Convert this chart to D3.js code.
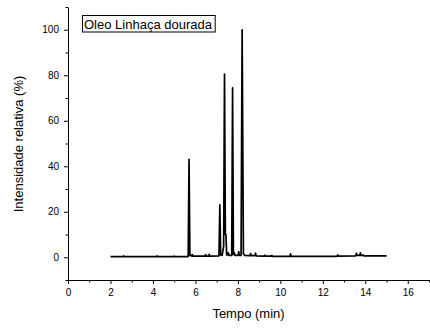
<!DOCTYPE html>
<html>
<head>
<meta charset="utf-8">
<script src="https://cdn.jsdelivr.net/npm/d3@7/dist/d3.min.js"></script>
<style>
  html, body { margin: 0; padding: 0; background: #fff; }
  svg { display: block; }
  text { font-family: "Liberation Sans", Arial, Helvetica, sans-serif; fill: #000; }
</style>
</head>
<body>
<script>
// ---- Data ----
const time = [2.00, 2.60, 2.62, 2.64, 4.18, 4.20, 4.22, 4.98, 5.00, 5.02,
  5.66, 5.70, 5.74, 5.82, 5.85, 5.88, 6.45, 6.48, 6.51, 6.62, 6.65, 6.68,
  7.11, 7.15, 7.19, 7.23, 7.26, 7.33, 7.37, 7.41, 7.44, 7.47, 7.52, 7.55, 7.58,
  7.71, 7.75, 7.79, 7.83, 7.86, 8.01, 8.04, 8.07, 8.15, 8.20, 8.26, 8.32,
  8.57, 8.60, 8.63, 8.80, 8.83, 8.86, 9.25, 9.27, 9.30, 9.58, 9.60, 9.62,
  10.45, 10.48, 10.51, 12.67, 12.70, 12.73, 13.55, 13.58, 13.62, 13.74, 13.77,
  13.80, 13.88, 13.90, 13.93, 15.00];
const intensity = [0.3, 0.3, 0.6, 0.3, 0.3, 0.6, 0.3, 0.3, 0.5, 0.3,
  0.3, 43, 0.8, 0.6, 1.2, 0.5, 0.5, 1.2, 0.5, 0.5, 1.3, 0.5,
  0.6, 23, 1.0, 1.0, 0.8, 5, 80.5, 10, 10, 1.0, 1.0, 2.0, 0.8,
  0.8, 74.5, 1.2, 2.0, 0.8, 0.8, 2.5, 0.8, 0.8, 100, 1.5, 0.8,
  0.7, 1.6, 0.7, 0.7, 1.8, 0.6, 0.5, 0.9, 0.5, 0.5, 0.8, 0.4,
  0.4, 1.5, 0.4, 0.4, 1.0, 0.5, 0.6, 1.7, 0.8, 0.8, 1.9,
  0.8, 0.8, 1.0, 0.6, 0.6];

const xMajorTicks = [0, 2, 4, 6, 8, 10, 12, 14, 16];
const xMinorTicks = [1, 3, 5, 7, 9, 11, 13, 15, 17];
const yMajorTicks = [0, 20, 40, 60, 80, 100];
const yMinorTicks = [-10, 10, 30, 50, 70, 90, 110];
const legendLabel = "Oleo Linhaça dourada";
const xTitle = "Tempo (min)";
const yTitle = "Intensidade relativa (%)";

// ---- Layout ----
const W = 430, H = 329;
const x = d3.scaleLinear().domain([0, 17]).range([68, 429]);
const y = d3.scaleLinear().domain([-10, 110]).range([280, 7]);

const svg = d3.select("body").append("svg").attr("width", W).attr("height", H);

// trace
const pts = time.map((t, i) => [t, intensity[i]]);
svg.append("path")
  .datum(pts)
  .attr("fill", "none")
  .attr("stroke", "#000")
  .attr("stroke-width", 1.7)
  .attr("stroke-linejoin", "round")
  .attr("d", d3.line().x(d => x(d[0])).y(d => y(d[1])));

// axes
const xAxis = svg.append("g").attr("transform", "translate(0,280)")
  .call(d3.axisBottom(x).tickValues(xMajorTicks).tickSize(4).tickPadding(5).tickSizeOuter(0).tickFormat(d3.format("d")));
const xMinor = svg.append("g").attr("transform", "translate(0,280)")
  .call(d3.axisBottom(x).tickValues(xMinorTicks).tickSize(2.5).tickSizeOuter(0).tickFormat(""));
xMinor.select(".domain").remove();

const yAxis = svg.append("g").attr("transform", "translate(68,0)")
  .call(d3.axisLeft(y).tickValues(yMajorTicks).tickSize(4).tickPadding(5).tickSizeOuter(0).tickFormat(d3.format("d")));
const yMinor = svg.append("g").attr("transform", "translate(68,0)")
  .call(d3.axisLeft(y).tickValues(yMinorTicks).tickSize(2.5).tickSizeOuter(0).tickFormat(""));
yMinor.select(".domain").remove();

svg.selectAll(".tick text").attr("font-size", 10).style("font-family", '"Liberation Sans", Arial, sans-serif');
svg.selectAll(".domain, .tick line").attr("stroke", "#000").attr("stroke-width", 1);

// axis titles
svg.append("text")
  .attr("x", (x.range()[0] + x.range()[1]) / 2)
  .attr("y", 318)
  .attr("text-anchor", "middle")
  .attr("font-size", 13)
  .text(xTitle);

svg.append("text")
  .attr("transform", "translate(23,144) rotate(-90)")
  .attr("text-anchor", "middle")
  .attr("font-size", 13)
  .text(yTitle);

// legend box
const lg = svg.append("g");
const lt = lg.append("text")
  .attr("x", 84)
  .attr("y", 28.5)
  .attr("font-size", 13)
  .text(legendLabel);
const bb = lt.node().getBBox();
lg.insert("rect", "text")
  .attr("x", 82.5)
  .attr("y", 15.5)
  .attr("width", bb.width + 4)
  .attr("height", 16.5)
  .attr("fill", "#fff")
  .attr("stroke", "#000")
  .attr("stroke-width", 1);
</script>
</body>
</html>
